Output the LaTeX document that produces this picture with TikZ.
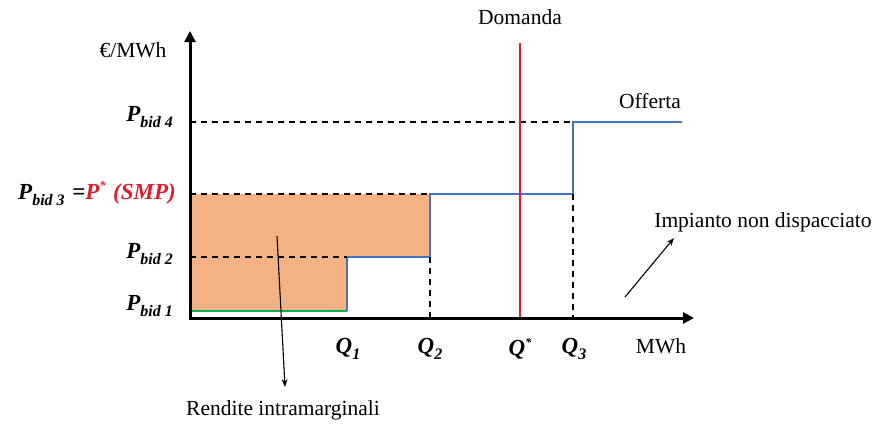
\documentclass[tikz,border=0pt]{standalone}
\usepackage{fontspec}
\setmainfont{Liberation Serif}
\usetikzlibrary{arrows.meta}
\definecolor{fillor}{RGB}{244,177,131}
\definecolor{offblue}{RGB}{68,114,196}
\definecolor{domred}{RGB}{222,30,45}
\definecolor{grn}{RGB}{0,176,80}
\newcommand\mysb[1]{\raisebox{-0.28em}{\fontsize{16}{17}\selectfont #1}}
\newcommand\mysp[1]{\raisebox{0.42em}{\fontsize{12}{13}\selectfont #1}}
\begin{document}
\begin{tikzpicture}[x=1pt,y=-1pt,
  lbl/.style={font=\fontsize{21.5}{24}\selectfont, inner sep=0pt},
  plbl/.style={font=\fontsize{23}{26}\selectfont\bfseries\itshape, inner sep=0pt},
  axisline/.style={line width=3pt, -{Triangle[length=11pt,width=11pt]}},
  dashline/.style={line width=1.6pt, dash pattern=on 6pt off 5pt},
  stepline/.style={offblue, line width=1.8pt},
  pointer/.style={line width=1.1pt, -{Stealth[length=8pt,width=6pt]}}
]
\useasboundingbox (0,0) rectangle (880,423);
% coordinates
\coordinate (O) at (190,318);
\coordinate (ytop) at (190,31);
\coordinate (xend) at (694,318);
% orange areas
\fill[fillor] (192,257) rectangle (347,311);
\fill[fillor] (192,194) rectangle (430,257);
% green line
\draw[grn, line width=1.8pt] (192,311) -- (347,311);
% supply step
\draw[stepline] (347,311) -- (347,257) -- (430,257) -- (430,194) -- (573,194) -- (573,122) -- (682,122);
% dashed guides
\draw[dashline] (190,122) -- (573,122);
\draw[dashline] (190,194) -- (430,194);
\draw[dashline] (190,257) -- (347,257);
\draw[dashline] (430,257) -- (430,318);
\draw[dashline] (573,194) -- (573,318);
% demand
\draw[domred, line width=2pt] (520,43) -- (520,318);
% axes
\draw[axisline] ([yshift=-1.5pt]O) -- (ytop);
\draw[axisline] ([xshift=-1.5pt]O) -- (xend);
% labels
\node[lbl] (yl) at (133,50) {€/MWh};
\node[lbl] (xl) at (661,346) {MWh};
\node[lbl] (dom) at (520,17) {Domanda};
\node[lbl] (off) at (650,101) {Offerta};
\node[lbl] (imp) at (763,222) {Impianto non dispacciato};
\node[lbl] (ren) at (283,410) {Rendite intramarginali};
\node[plbl, anchor=east] (p4) at (173,117) {P\mysb{bid 4}};
\node[plbl, anchor=east] (p3) at (176,194) {P\mysb{bid 3}\,\,{\normalfont\bfseries =}\textcolor{domred}{P\mysp{*}\,\,(SMP)}};
\node[plbl, anchor=east] (p2) at (173,254) {P\mysb{bid 2}};
\node[plbl, anchor=east] (p1) at (173,306) {P\mysb{bid 1}};
\node[plbl] (q1) at (348,349) {Q\mysb{1}};
\node[plbl] (q2) at (430,349) {Q\mysb{2}};
\node[plbl] (qs) at (520,349) {Q\mysp{*}};
\node[plbl] (q3) at (574,349) {Q\mysb{3}};
% pointers
\coordinate (rs) at (277,236);
\coordinate (re) at (285,387);
\draw[pointer] (rs) -- (re);
\coordinate (is) at (625,297);
\coordinate (ie) at (674,238);
\draw[pointer] (is) -- (ie);
\end{tikzpicture}
\end{document}
